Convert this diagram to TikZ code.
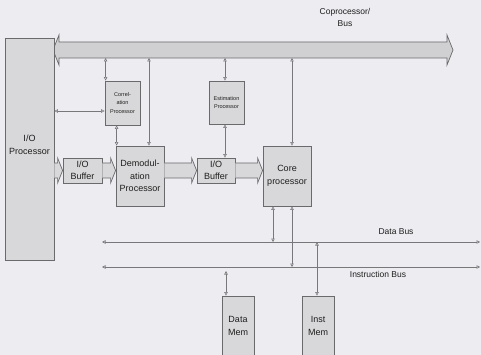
\documentclass[tikz,border=0pt]{standalone}
\usepackage{fontspec}
\setmainfont{Liberation Sans}
\usetikzlibrary{arrows.meta,calc}
\definecolor{bg}{HTML}{ECECF1}
\definecolor{boxfill}{HTML}{D8D8DA}
\definecolor{busfill}{HTML}{D0D0D2}
\definecolor{edge}{HTML}{6A6A6C}
\definecolor{wire}{HTML}{78787A}
\definecolor{ink}{HTML}{1E1E1E}
\newcommand\widearr[2]{%
  \draw[widearr] ($(#1)+(0,-7.5)$) -- ($(#2)+(-5,-7.5)$) -- ($(#2)+(-5,-12.5)$) -- (#2)
    -- ($(#2)+(-5,12.5)$) -- ($(#2)+(-5,7.5)$) -- ($(#1)+(0,7.5)$);}
\begin{document}
\begin{tikzpicture}[x=1pt,y=-1pt,
  box/.style={draw=edge, fill=boxfill, line width=0.8pt, inner sep=0pt, align=center,
    text=ink, font=\fontsize{9}{12.5}\selectfont},
  small/.style={font=\fontsize{5.5}{8.5}\selectfont},
  conn/.style={draw=wire, line width=0.6pt,
    {Triangle[open,length=3.5pt,width=3.5pt]}-{Triangle[open,length=3.5pt,width=3.5pt]}},
  widearr/.style={draw=edge, fill=boxfill, line width=0.7pt, line join=miter},
  lbl/.style={text=ink, font=\fontsize{8.5}{12}\selectfont, align=center, inner sep=0pt}]
\useasboundingbox (0,0) rectangle (481,355);
\clip (0,0) rectangle (481,355);
\fill[bg] (0,0) rectangle (481,355);

% coprocessor bus
\draw[widearr, fill=busfill] (53,50) -- (59,35) -- (59,42) -- (447,42) -- (447,35) -- (453,50)
  -- (447,65) -- (447,58) -- (59,58) -- (59,65) -- cycle;
\coordinate (busb) at (0,58);
\node[lbl] (cbus) at (345,17) {Coprocessor/\\Bus};

% boxes
\node[box, minimum width=49pt, minimum height=222pt] (iop) at (29.5,149) {};
\node[lbl, font=\fontsize{9}{13}\selectfont] (iopl) at (29.5,145) {I/O\\Processor};
\node[box, small, minimum width=35pt, minimum height=44pt] (corr) at (122.5,103) {Correl-\\ation\\Processor};
\node[box, small, minimum width=35pt, minimum height=43pt] (est) at (226.5,102.5) {Estimation\\Processor};
\node[box, minimum width=48pt, minimum height=60pt] (demod) at (140,176) {Demodul-\\ation\\Processor};
\node[box, minimum width=39pt, minimum height=25pt] (buf1) at (82.5,170.5) {I/O\\Buffer};
\node[box, minimum width=38pt, minimum height=25pt] (buf2) at (216,170.5) {I/O\\Buffer};
\node[box, minimum width=48pt, minimum height=60pt] (core) at (287,176) {Core\\processor};
\node[box, minimum width=32pt, minimum height=60pt] (dmem) at (238,326) {Data\\Mem};
\node[box, minimum width=32pt, minimum height=60pt] (imem) at (318,326) {Inst\\Mem};

% wide data-path arrows
\coordinate (w1s) at (iop.east |- buf1.west);
\widearr{w1s}{buf1.west}
\coordinate (w2e) at (buf1.east -| demod.west);
\widearr{buf1.east}{w2e}
\coordinate (w3s) at (demod.east |- buf2.west);
\widearr{w3s}{buf2.west}
\coordinate (w4e) at (buf2.east -| core.west);
\widearr{buf2.east}{w4e}

% connectors to coprocessor bus
\coordinate (a1) at ([xshift=1pt]corr.north west);
\draw[conn] (a1 |- busb) -- (a1);
\coordinate (a2) at ([xshift=9pt]demod.north);
\draw[conn] (a2 |- busb) -- (a2);
\coordinate (a3) at ([xshift=-1.5pt]est.north);
\draw[conn] (a3 |- busb) -- (a3);
\coordinate (a4) at ([xshift=5pt]core.north);
\draw[conn] (a4 |- busb) -- (a4);

% other connectors
\coordinate (a5) at ([yshift=-8pt]corr.west);
\draw[conn] (iop.east |- a5) -- (a5);
\coordinate (a6) at ([xshift=12pt]corr.south west);
\draw[conn] (a6) -- (a6 |- demod.north);
\coordinate (a7) at ([xshift=-1.5pt]est.south);
\draw[conn] (a7) -- (a7 |- buf2.north);

% data and instruction buses
\coordinate (dbL) at (102,242);
\coordinate (dbR) at (480,242);
\coordinate (ibL) at (102,267);
\coordinate (ibR) at (480,267);
\draw[conn] (dbL) -- (dbR);
\draw[conn] (ibL) -- (ibR);
\node[lbl] (dbl) at (396,232) {Data Bus};
\node[lbl] (ibl) at (378,274) {Instruction Bus};

\coordinate (a8) at ([xshift=-14pt]core.south);
\draw[conn] (a8) -- (a8 |- dbL);
\coordinate (a9) at ([xshift=5pt]core.south);
\draw[conn] (a9) -- (a9 |- ibL);
\coordinate (a10) at ([xshift=-12pt]dmem.north);
\draw[conn, shorten >=4pt] (a10) -- (a10 |- ibL);
\coordinate (a11) at ([xshift=-1pt]imem.north);
\draw[conn] (a11) -- (a11 |- dbL);
\end{tikzpicture}
\end{document}
